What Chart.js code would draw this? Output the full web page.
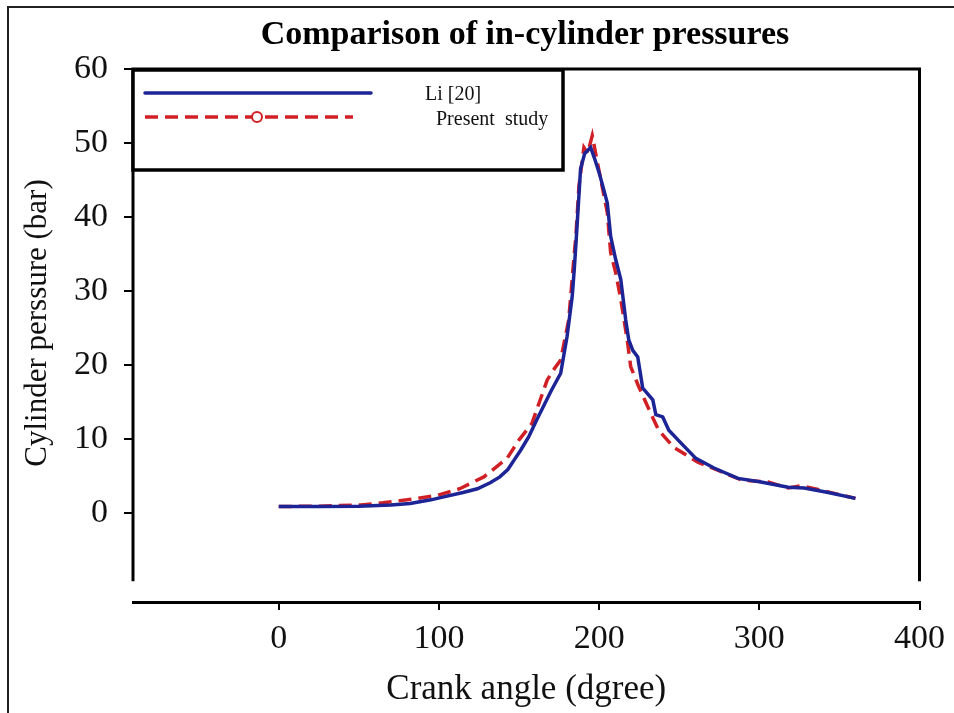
<!DOCTYPE html>
<html>
<head>
<meta charset="utf-8">
<script src="https://cdn.jsdelivr.net/npm/chart.js@4/dist/chart.umd.min.js"></script>
<style>
  html, body { margin: 0; padding: 0; background: #fff; }
  canvas { display: block; }
</style>
</head>
<body>
<canvas id="pressure" width="954" height="713"></canvas>
<script>
// values
const liAngle = [0, 25, 50, 70, 82, 95, 103, 115, 124, 132, 138, 143, 147, 151, 156, 161, 170, 176, 180, 183.2, 184.5, 185.7, 186.7, 188.4, 191, 194.7, 197, 200, 203, 205.1, 207.2, 210.3, 213.5, 216.6, 218.5, 221, 224.1, 227.2, 233.5, 235.4, 239.7, 243.5, 251, 260.4, 271.7, 286.7, 301, 318, 328, 343, 360];
const liPressure = [0.9, 0.9, 0.95, 1.1, 1.3, 1.8, 2.2, 2.8, 3.3, 4.1, 4.9, 5.9, 7.2, 8.5, 10.3, 12.6, 16.5, 18.9, 23.9, 29.3, 33, 37, 40.5, 46.5, 48.6, 49.4, 48.0, 46.0, 43.6, 41.9, 37.4, 34.3, 31.6, 26.1, 23.4, 22.0, 21.1, 16.9, 15.3, 13.3, 13.0, 11.2, 9.5, 7.4, 6.1, 4.7, 4.2, 3.5, 3.4, 2.8, 2.0];

const presentAngle = [0, 25, 51, 65, 80, 99, 113, 128, 142.5, 150, 158, 167.6, 172, 176, 181, 184.2, 185.5, 187.4, 190.5, 192.8, 195.7, 198.9, 202, 205.1, 207.2, 210.3, 213, 215.3, 217.8, 219.7, 224.7, 232.2, 237.2, 246.6, 261.6, 274, 288.6, 305.5, 318, 326, 338.7, 360];
const presentPressure = [0.9, 0.95, 1.1, 1.4, 1.8, 2.4, 3.3, 4.9, 7.4, 9.9, 12.1, 18.0, 19.5, 20.7, 26.1, 34.3, 37.5, 44.2, 49.4, 48.6, 51.0, 47.4, 44.0, 40.6, 35.2, 32.5, 29.5, 26.5, 23.0, 19.8, 17.1, 13.5, 11.2, 8.9, 6.9, 5.8, 4.5, 4.2, 3.4, 3.7, 3.1, 2.0];

const xTicks = [0, 100, 200, 300, 400];
const yTicks = [0, 10, 20, 30, 40, 50, 60];

const seriesNames = ['Li [20]', 'Present  study'];
const titleText = 'Comparison of in-cylinder pressures';
const yTitle = 'Cylinder perssure (bar)';

const BLUE = 'rgb(28,36,150)';
const RED = 'rgb(208,32,38)';
const SERIF = "'Liberation Serif', 'Times New Roman', serif";

function toPoints(xs, ys) {
  return xs.map((x, i) => ({ x: x, y: ys[i] }));
}

// frame, titles, legend box and the outer border
const decorations = {
  id: 'decorations',
  afterDraw(chart) {
    const ctx = chart.ctx;
    const a = chart.chartArea;
    const frameBottom = chart.scales.y.getPixelForValue(-9.2);
    ctx.save();

    // outer border of the figure
    ctx.strokeStyle = '#222';
    ctx.lineWidth = 2;
    ctx.beginPath();
    ctx.moveTo(8, 713);
    ctx.lineTo(8, 7);
    ctx.lineTo(954, 7);
    ctx.stroke();

    // plot frame (left, top, right), stops short of the x axis
    ctx.strokeStyle = '#000';
    ctx.lineWidth = 3;
    ctx.beginPath();
    ctx.moveTo(a.left, frameBottom);
    ctx.lineTo(a.left, a.top);
    ctx.lineTo(a.right, a.top);
    ctx.lineTo(a.right, frameBottom);
    ctx.stroke();

    // title
    ctx.fillStyle = '#000';
    ctx.font = 'bold 34px ' + SERIF;
    ctx.textAlign = 'center';
    ctx.textBaseline = 'alphabetic';
    ctx.fillText(titleText, 525, 44);

    // y axis title
    ctx.save();
    ctx.translate(38, 323);
    ctx.rotate(-Math.PI / 2);
    ctx.fillStyle = '#111';
    ctx.font = '31px ' + SERIF;
    ctx.textBaseline = 'middle';
    ctx.fillText(yTitle, 0, 0);
    ctx.restore();

    // legend
    const lx = a.left, ly = a.top + 1;
    ctx.fillStyle = '#fff';
    ctx.fillRect(lx, ly, 430, 100);
    ctx.lineWidth = 3.5;
    ctx.strokeStyle = '#000';
    ctx.strokeRect(lx, ly, 430, 100);

    ctx.lineCap = 'round';
    ctx.lineWidth = 3.5;
    ctx.strokeStyle = BLUE;
    ctx.beginPath();
    ctx.moveTo(lx + 12, ly + 23);
    ctx.lineTo(lx + 238, ly + 23);
    ctx.stroke();

    ctx.lineCap = 'butt';
    ctx.strokeStyle = RED;
    ctx.lineWidth = 3.5;
    ctx.setLineDash([13, 7]);
    ctx.beginPath();
    ctx.moveTo(lx + 12, ly + 47);
    ctx.lineTo(lx + 220, ly + 47);
    ctx.stroke();
    ctx.setLineDash([]);
    ctx.lineWidth = 2;
    ctx.fillStyle = '#fff';
    ctx.beginPath();
    ctx.arc(lx + 124, ly + 47, 5, 0, Math.PI * 2);
    ctx.fill();
    ctx.stroke();

    ctx.fillStyle = '#111';
    ctx.font = '20px ' + SERIF;
    ctx.textAlign = 'left';
    ctx.fillText(seriesNames[0], lx + 292, ly + 30);
    ctx.fillText(seriesNames[1], lx + 303, ly + 55);

    ctx.restore();
  }
};

new Chart(document.getElementById('pressure'), {
  type: 'scatter',
  data: {
    datasets: [
      {
        label: seriesNames[0],
        data: toPoints(liAngle, liPressure),
        showLine: true,
        borderColor: BLUE,
        backgroundColor: BLUE,
        borderWidth: 3.5,
        pointRadius: 0,
        tension: 0
      },
      {
        label: seriesNames[1],
        data: toPoints(presentAngle, presentPressure),
        showLine: true,
        borderColor: RED,
        backgroundColor: RED,
        borderWidth: 3.5,
        borderDash: [13, 7],
        pointRadius: 0,
        tension: 0
      }
    ]
  },
  options: {
    responsive: false,
    animation: false,
    devicePixelRatio: 1,
    layout: { padding: { left: 0, top: 69, right: 34, bottom: 0 } },
    plugins: {
      legend: { display: false },
      tooltip: { enabled: false },
      title: { display: false }
    },
    scales: {
      x: {
        type: 'linear',
        min: -91,
        max: 400,
        afterBuildTicks: (scale) => { scale.ticks = xTicks.map(v => ({ value: v })); },
        afterFit: (scale) => { scale.height = 111; },
        border: { display: true, color: '#000', width: 3 },
        grid: { drawOnChartArea: false, drawTicks: true, tickLength: 8, color: '#000', lineWidth: 2 },
        ticks: {
          color: '#111',
          padding: 9,
          maxRotation: 0,
          font: { family: SERIF, size: 34 }
        },
        title: {
          display: true,
          text: 'Crank angle (dgree)',
          color: '#111',
          font: { family: SERIF, size: 35 },
          padding: { top: 0, bottom: 2 }
        }
      },
      y: {
        type: 'linear',
        min: -12,
        max: 60,
        afterBuildTicks: (scale) => { scale.ticks = yTicks.map(v => ({ value: v })); },
        afterFit: (scale) => { scale.width = 133; },
        border: { display: false },
        grid: { drawOnChartArea: false, drawTicks: true, tickLength: 9, color: '#000', lineWidth: 2 },
        ticks: {
          color: '#111',
          padding: 16,
          font: { family: SERIF, size: 34 }
        },
        title: { display: false }
      }
    }
  },
  plugins: [decorations]
});
</script>
</body>
</html>
